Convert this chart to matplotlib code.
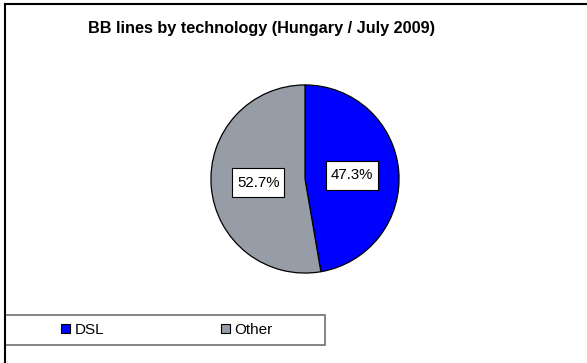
import matplotlib.pyplot as plt
from matplotlib.lines import Line2D
from matplotlib.patches import Rectangle
from matplotlib.path import Path

plt.rcParams['font.family'] = ['Liberation Sans', 'DejaVu Sans']

# Data
labels = ["DSL", "Other"]
shares = [47.3, 52.7]
colors = ["#0000FF", "#969DA6"]
title = "BB lines by technology (Hungary / July 2009)"

W, H = 587, 363


def label_box(x0, y0, width, height, mutation_size):
    # square box, a bit taller than wide padding (like the Excel data labels)
    px = 0.32 * mutation_size
    py = 0.5 * mutation_size
    x0, x1 = x0 - px, x0 + width + px
    y0, y1 = y0 - py, y0 + height + py
    return Path([(x0, y0), (x1, y0), (x1, y1), (x0, y1), (x0, y0)], closed=True)


fig = plt.figure(figsize=(W / 100, H / 100), dpi=100)
fig.patch.set_facecolor("white")

# chart area frame (only left and top edges are visible in the crop)
fig.add_artist(Line2D([5 / W, 5 / W], [0, 1 - 4 / H], color="black", lw=1.5,
                      transform=fig.transFigure))
fig.add_artist(Line2D([5 / W, 1], [1 - 4 / H, 1 - 4 / H], color="black", lw=1.5,
                      transform=fig.transFigure))

fig.text(262 / W, 1 - 28 / H, title, ha="center", va="center",
         fontsize=11.7, fontweight="bold")

# pie axes
ax = fig.add_axes([210 / W, (H - 274) / H, 190 / W, 190 / H])
wedges, texts, autotexts = ax.pie(
    shares, colors=colors, startangle=90, counterclock=False,
    autopct="%.1f%%", pctdistance=0.5,
    wedgeprops=dict(edgecolor="black", linewidth=0.9),
    textprops=dict(fontsize=10.8))
for t in autotexts:
    t.set_bbox(dict(facecolor="white", edgecolor="black", linewidth=0.8,
                    boxstyle=label_box))
ax.set_xlim(-1.01, 1.01)
ax.set_ylim(-1.01, 1.01)
ax.set_aspect("equal")
ax.axis("off")

# legend box
fig.add_artist(Rectangle((5 / W, (H - 345) / H), 320 / W, 30 / H,
                         transform=fig.transFigure, facecolor="white",
                         edgecolor="#707070", linewidth=1.2))
leg = fig.legend(wedges, labels, ncol=2, loc="center",
                 bbox_to_anchor=(167 / W, (H - 330) / H),
                 fontsize=11, frameon=False,
                 handlelength=0.6, handleheight=0.6, handletextpad=0.3,
                 borderaxespad=0, borderpad=0, columnspacing=7.6)
for h in leg.legend_handles:
    h.set_edgecolor("black")
    h.set_linewidth(0.8)

fig.savefig("out.png", dpi=100)
